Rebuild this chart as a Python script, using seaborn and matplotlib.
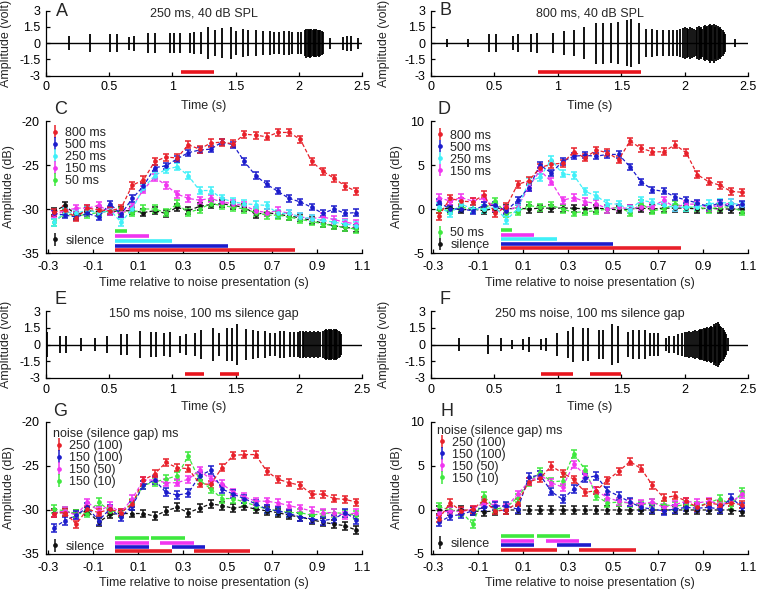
import numpy as np
import pandas as pd
import matplotlib
matplotlib.use("Agg")
import matplotlib.pyplot as plt
import seaborn as sns

sns.set_style("ticks")
plt.rcParams['font.family'] = ['Liberation Sans', 'DejaVu Sans']
plt.rcParams['font.size'] = 9
plt.rcParams['axes.unicode_minus'] = False
plt.rcParams['lines.dashed_pattern'] = [3.0, 1.8]

# ---------------- waveform data (spike times in s, half amplitudes in volt) -------------
A_TIMES = [0.00, 0.18, 0.35, 0.51, 0.56, 0.66, 0.70, 0.81, 0.86, 0.98, 1.01, 1.06, 1.14, 1.17, 1.23,
           1.28, 1.34, 1.39, 1.46, 1.50, 1.56, 1.60, 1.66, 1.72, 1.77, 1.80, 1.84, 1.88, 1.92, 1.95,
           1.99, 2.02, 2.05, 2.06, 2.07, 2.08, 2.09, 2.10, 2.11, 2.12, 2.13, 2.14, 2.15, 2.16, 2.17,
           2.18, 2.19, 2.25, 2.35, 2.38, 2.41, 2.47]
A_AMPS = [0.45, 0.65, 0.8, 0.8, 0.8, 0.6, 0.7, 0.9, 0.9, 0.9, 0.95, 0.9, 0.95, 1.0, 1.0,
          1.45, 1.2, 1.4, 1.5, 1.1, 1.3, 1.2, 1.2, 1.1, 1.1, 1.0, 1.0, 1.1, 1.1, 1.0,
          1.05, 1.0, 1.2, 1.35, 1.3, 1.25, 1.35, 1.3, 1.2, 1.3, 1.25, 1.3, 1.2, 1.25, 1.2,
          1.1, 1.0, 0.5, 0.6, 0.7, 0.7, 0.5]
A_NOISE = [(1.07, 1.33)]

B_TIMES = [0.13, 0.29, 0.455, 0.515, 0.645, 0.69, 0.79, 0.835, 0.96, 1.045, 1.13, 1.21, 1.30, 1.355,
           1.42, 1.475, 1.545, 1.58, 1.64, 1.695, 1.745, 1.785, 1.83, 1.875, 1.91, 1.94, 1.965, 1.985,
           2.0, 2.015, 2.03, 2.045, 2.06, 2.075, 2.09, 2.10, 2.11, 2.12, 2.13, 2.14, 2.15, 2.16, 2.17,
           2.18, 2.19, 2.20, 2.21, 2.22, 2.23, 2.24, 2.25, 2.26, 2.27, 2.28, 2.29, 2.30, 2.31, 2.32, 2.40]
B_AMPS = [0.35, 0.4, 0.85, 0.85, 0.65, 0.8, 0.85, 0.9, 0.9, 1.1, 1.2, 1.45, 1.9, 1.9,
          1.85, 1.95, 2.1, 2.2, 1.9, 1.3, 1.3, 1.2, 1.2, 1.2, 1.2, 1.2, 1.3, 1.4,
          1.5, 1.4, 1.3, 1.5, 1.4, 1.3, 1.2, 1.5, 1.6, 1.4, 1.5, 1.3, 1.6, 1.7, 1.5,
          1.6, 1.7, 1.8, 1.6, 1.7, 1.8, 1.5, 1.7, 1.6, 1.4, 1.5, 1.3, 1.2, 1.0, 0.8, 0.4]
B_NOISE = [(0.84, 1.66)]

E_TIMES = [0.005, 0.11, 0.16, 0.28, 0.39, 0.48, 0.59, 0.64, 0.74, 0.83, 0.87, 0.93, 0.98, 1.06, 1.11,
           1.18, 1.23, 1.32, 1.37, 1.43, 1.47, 1.51, 1.58, 1.64, 1.68, 1.73, 1.77, 1.81, 1.85, 1.88,
           1.93, 1.96, 1.99, 2.01, 2.03, 2.045, 2.06, 2.075, 2.09, 2.105, 2.12, 2.135, 2.15, 2.165,
           2.195, 2.205, 2.215, 2.225, 2.235, 2.245, 2.255, 2.265, 2.275, 2.285, 2.295, 2.305,
           2.315, 2.325, 2.335]
E_AMPS = [1.1, 0.75, 0.8, 0.6, 0.6, 0.8, 0.9, 0.95, 1.2, 1.1, 1.1, 1.0, 1.1, 0.8, 0.9,
          1.0, 1.3, 1.5, 1.0, 1.5, 1.5, 1.8, 1.4, 1.3, 1.2, 1.2, 1.0, 1.0, 1.2, 1.2,
          1.1, 1.1, 1.1, 1.2, 1.2, 1.1, 1.2, 1.1, 1.2, 1.1, 1.2, 1.1, 1.2, 1.1,
          1.2, 1.3, 1.4, 1.3, 1.4, 1.3, 1.4, 1.3, 1.4, 1.3, 1.4, 1.3,
          1.2, 1.1, 0.9]
E_NOISE = [(1.10, 1.25), (1.38, 1.53)]

F_TIMES = [0.22, 0.45, 0.55, 0.635, 0.725, 0.77, 0.87, 0.91, 0.995, 1.08, 1.12, 1.195, 1.24, 1.325,
           1.36, 1.425, 1.475, 1.55, 1.595, 1.64, 1.69, 1.73, 1.76, 1.79, 1.85, 1.875, 1.915, 1.95,
           1.98, 2.00, 2.02, 2.035, 2.05, 2.065, 2.08, 2.095, 2.11, 2.12, 2.13, 2.14, 2.15, 2.16,
           2.17, 2.18, 2.19, 2.20, 2.21, 2.22, 2.23, 2.24, 2.25, 2.26, 2.27, 2.28, 2.29, 2.30,
           2.31, 2.32, 2.33, 2.34]
F_AMPS = [0.55, 0.85, 0.55, 0.4, 0.45, 0.65, 0.5, 0.6, 1.0, 1.2, 1.6, 1.5, 1.5, 1.3,
          1.3, 1.85, 1.7, 1.1, 1.3, 1.3, 1.3, 1.0, 1.0, 1.0, 0.6, 0.8, 0.8, 0.9,
          1.0, 1.1, 1.1, 1.2, 1.1, 1.2, 1.3, 1.2, 1.3, 1.4, 1.3, 1.4, 1.5, 1.4,
          1.5, 1.6, 1.5, 1.6, 1.7, 1.6, 1.8, 1.7, 1.9, 2.0, 1.8, 1.7, 1.6, 1.5,
          1.3, 1.1, 0.9, 0.6]
F_NOISE = [(0.87, 1.12), (1.25, 1.50)]

WAVE_TITLES = ["250 ms, 40 dB SPL", "800 ms, 40 dB SPL",
               "150 ms noise, 100 ms silence gap", "250 ms noise, 100 ms silence gap"]

# ---------------- averaged response data ----------------
T = [-0.275, -0.225, -0.175, -0.125, -0.075, -0.025, 0.025, 0.075, 0.125, 0.175, 0.225, 0.275, 0.325,
     0.375, 0.425, 0.475, 0.525, 0.575, 0.625, 0.675, 0.725, 0.775, 0.825, 0.875, 0.925, 0.975,
     1.025, 1.075]

C_800 = [-30.35, -30.1, -31.0, -29.9, -30.1, -30.2, -29.9, -27.3, -26.7, -24.6, -24.1, -24.2, -22.7, -23.2,
         -22.5, -22.4, -22.6, -21.5, -21.6, -21.8, -21.3, -21.3, -22.1, -24.6, -25.7, -26.5, -27.4, -28.0]
C_500 = [-30.5, -30.7, -30.9, -30.5, -30.9, -29.4, -30.6, -28.8, -27.4, -25.3, -25.1, -24.3, -23.6, -23.3,
         -23.2, -22.4, -22.7, -24.6, -26.2, -27.2, -28.0, -28.8, -29.2, -29.8, -30.5, -30.0, -30.5, -30.4]
C_250 = [-31.5, -30.3, -30.5, -30.1, -30.5, -30.1, -31.5, -30.0, -27.6, -26.2, -25.5, -25.2, -26.2, -27.9,
         -27.9, -28.8, -29.2, -29.4, -29.5, -29.6, -30.5, -30.5, -30.9, -31.1, -31.3, -31.5, -31.7, -31.9]
C_150 = [-30.6, -30.2, -29.9, -29.9, -29.6, -30.3, -30.5, -29.7, -27.8, -26.4, -27.3, -28.3, -28.8, -29.0,
         -28.8, -29.2, -29.4, -29.6, -30.2, -30.4, -30.2, -30.5, -30.9, -31.1, -30.9, -31.2, -31.5, -31.7]
C_50 = [-31.5, -30.5, -30.8, -30.6, -30.4, -30.2, -30.3, -30.4, -30.0, -30.0, -30.4, -29.4, -30.4, -30.0,
        -29.4, -29.6, -29.8, -30.0, -30.4, -30.7, -30.7, -30.9, -31.2, -31.4, -31.7, -31.9, -32.1, -32.3]
C_SIL = [-30.3, -29.6, -30.7, -30.2, -30.3, -30.3, -30.2, -30.2, -30.4, -30.2, -30.5, -29.8, -30.2, -29.7,
         -29.5, -29.4, -29.6, -29.8, -30.6, -30.4, -30.6, -30.8, -31.0, -31.3, -31.6, -31.9, -32.1, -32.2]

D_800 = [-0.8, 1.2, 0.9, 0.8, 1.6, -0.5, 0.25, 2.8, 3.2, 4.7, 5.1, 5.2, 6.5, 5.8,
         6.7, 6.4, 5.6, 7.7, 6.9, 6.5, 6.5, 7.3, 6.4, 3.9, 3.1, 2.7, 2.0, 1.9]
D_500 = [0.75, 0.0, 0.0, -0.2, 0.4, 0.4, -0.2, 1.0, 2.4, 5.0, 4.1, 5.4, 6.0, 6.1,
         6.0, 6.2, 6.2, 4.8, 3.1, 2.2, 2.0, 1.4, 1.0, 0.7, 0.25, 0.7, 0.2, 0.6]
D_250 = [0.25, -0.5, 0.55, 0.0, 0.0, 0.25, -1.25, 0.0, 3.1, 3.6, 5.6, 4.0, 3.85, 2.0,
         1.5, 0.6, 0.55, -0.1, 1.0, 0.75, 0.4, 0.2, 0.2, 0.25, 0.6, 0.7, 0.7, 0.4]
D_150 = [1.3, 0.9, 1.3, 0.9, 1.2, 0.2, -0.1, 0.2, 2.5, 4.4, 3.1, 1.0, 1.3, 0.85,
         0.6, 0.0, 0.2, 0.0, 0.25, 0.25, 1.0, 0.2, 0.55, 0.55, 0.2, 0.4, 0.7, 0.4]
D_50 = [0.0, -0.2, 0.2, 0.0, 0.0, 0.9, -0.5, -0.3, 0.4, 0.2, 0.4, 0.0, -0.4, -0.3,
        -0.2, 0.0, 0.2, -0.4, 0.6, -0.2, 0.0, 0.55, 0.2, 0.2, 0.0, 0.2, 0.25, -0.3]
D_SIL = [0.0, 0.1, -0.1, 0.0, -0.2, 0.1, 0.0, 0.1, 0.0, 0.1, 0.1, 0.1, 0.1, 0.0,
         0.1, 0.0, -0.1, 0.0, 0.1, 0.0, 0.1, 0.1, 0.1, 0.0, 0.1, 0.0, 0.0, 0.0]

G_250_100 = [-30.4, -30.3, -31.6, -29.9, -30.3, -29.9, -30.3, -29.3, -26.6, -25.9, -24.6, -25.2, -25.3, -27.0,
             -27.1, -25.2, -23.8, -23.7, -23.7, -25.6, -26.5, -26.9, -27.2, -28.2, -28.2, -28.7, -28.8, -29.1]
G_150_100 = [-32.0, -31.2, -30.6, -29.7, -31.2, -29.9, -30.8, -29.5, -27.2, -26.6, -28.0, -28.3, -28.1, -26.1,
             -25.5, -27.6, -28.2, -28.7, -29.3, -29.9, -30.1, -30.4, -30.8, -31.0, -31.2, -31.0, -30.3, -31.1]
G_150_50 = [-30.4, -30.1, -30.6, -29.1, -30.1, -29.5, -30.3, -28.7, -26.6, -26.6, -26.9, -26.9, -26.5, -25.5,
            -26.5, -27.0, -28.0, -28.5, -29.0, -29.0, -29.2, -29.5, -29.8, -30.1, -30.3, -30.3, -30.6, -30.3]
G_150_10 = [-29.9, -30.1, -30.4, -30.4, -29.1, -30.1, -30.3, -29.2, -27.2, -26.8, -26.5, -26.1, -23.9, -26.6,
            -27.6, -28.7, -28.7, -29.1, -29.5, -29.9, -30.1, -30.3, -30.3, -30.6, -30.4, -30.3, -30.4, -30.6]
G_SIL = [-30.3, -30.2, -30.4, -30.1, -31.4, -30.5, -30.4, -30.4, -30.4, -30.7, -30.1, -29.7, -30.3, -29.8,
         -29.3, -29.5, -29.8, -29.6, -29.9, -30.1, -30.3, -30.6, -30.8, -31.1, -31.4, -31.6, -31.8, -32.3]

H_250_100 = [-1.0, 0.8, -0.1, 0.1, 1.1, -0.1, 0.0, 0.8, 3.2, 3.6, 5.0, 4.2, 3.5, 2.0,
             2.2, 3.4, 4.4, 5.5, 4.7, 2.8, 1.4, 1.6, 1.0, 0.3, 0.8, 0.6, 0.8, 0.6]
H_150_100 = [-1.4, -0.7, -0.5, -0.1, 0.3, 0.45, 0.45, 0.1, 3.7, 4.0, 2.1, 1.2, 2.4, 3.6,
             3.9, 2.2, 1.6, 0.9, 0.3, 0.1, -0.1, 0.1, 0.3, 0.2, 0.3, 0.1, 1.4, 0.3]
H_150_50 = [-0.3, -0.1, -0.2, 0.1, 0.8, 0.6, 0.3, 1.8, 3.2, 4.0, 3.1, 2.6, 5.2, 4.0,
            2.2, 1.4, 1.0, 0.8, 0.7, 0.9, 0.3, 0.6, 1.0, 0.8, 1.0, 0.7, 0.9, 1.8]
H_150_10 = [0.4, 0.0, -0.2, -1.6, 1.6, 0.1, 0.3, 1.4, 3.2, 4.3, 3.2, 3.3, 6.4, 4.6,
            1.6, 0.8, 0.9, 0.8, 0.6, 0.8, 0.6, 0.45, 0.6, 0.45, 0.8, 1.3, 0.6, 2.0]
H_SIL = [0.0, -0.1, 0.0, -0.1, -0.2, -0.1, 0.0, 0.0, 0.0, 0.0, 0.0, 0.0, 0.0, 0.0,
         0.0, 0.0, 0.0, 0.0, 0.0, 0.0, 0.0, 0.0, 0.0, 0.0, 0.0, 0.0, 0.0, -0.2]

# typical standard errors (dB) per series
ERR_DUR = {"800 ms": 0.4, "500 ms": 0.35, "250 ms": 0.4, "150 ms": 0.4, "50 ms": 0.4, "silence": 0.4}
ERR_GAP = {"250 (100)": 0.4, "150 (100)": 0.45, "150 (50)": 0.4, "150 (10)": 0.45, "silence": 0.45}

DUR_LABELS = ["800 ms", "500 ms", "250 ms", "150 ms", "50 ms"]
DUR_NOISE = {"800 ms": [(0.0, 0.8)], "500 ms": [(0.0, 0.5)], "250 ms": [(0.0, 0.25)],
             "150 ms": [(0.0, 0.15)], "50 ms": [(0.0, 0.05)]}
GAP_LABELS = ["250 (100)", "150 (100)", "150 (50)", "150 (10)"]
GAP_NOISE = {"250 (100)": [(0.0, 0.25), (0.35, 0.60)], "150 (100)": [(0.0, 0.15), (0.25, 0.40)],
             "150 (50)": [(0.0, 0.15), (0.20, 0.35)], "150 (10)": [(0.0, 0.15), (0.16, 0.31)]}

COLORS = {"800 ms": "#e8202a", "500 ms": "#1c1ccc", "250 ms": "#3ff0f8", "150 ms": "#f035f0",
          "50 ms": "#3ee83e", "silence": "#111111",
          "250 (100)": "#e8202a", "150 (100)": "#1c1ccc", "150 (50)": "#f035f0", "150 (10)": "#3ee83e"}
NOISE_RED = "#e8141c"

# ---------------- figure ----------------
W, H = 757, 592
fig = plt.figure(figsize=(W / 100, H / 100), dpi=100)


def add_ax(l, t, r, b):
    return fig.add_axes([l / W, 1 - b / H, (r - l) / W, (b - t) / H])


def style(ax, xpad, ypad):
    sns.despine(ax=ax)
    for s in ("left", "bottom"):
        ax.spines[s].set_linewidth(0.9)
        ax.spines[s].set_color("black")
    ax.tick_params(direction="in", length=3, width=0.9, labelsize=9, colors="black")
    ax.tick_params(axis="x", pad=xpad)
    ax.tick_params(axis="y", pad=ypad)


def wave_panel(ax, times, amps, noise, title, ylab_x, xlab_y):
    df = pd.DataFrame({"t": times, "a": amps})
    ax.plot([0, 2.5], [0, 0], color="black", lw=1.0)
    ax.vlines(df["t"], -df["a"], df["a"], color="black", lw=1.3)
    for x0, x1 in noise:
        ax.hlines(-2.65, x0, x1, color=NOISE_RED, lw=2.6)
    ax.set_xlim(0, 2.5)
    ax.set_ylim(-3, 3)
    ax.set_xticks([0, 0.5, 1, 1.5, 2, 2.5])
    ax.set_xticklabels(["0", "0.5", "1", "1.5", "2", "2.5"])
    ax.set_yticks([-3, -1.5, 0, 1.5, 3])
    ax.set_yticklabels(["-3", "-1.5", "0", "1.5", "3"])
    ax.set_ylabel("Amplitude (volt)", fontsize=9)
    ax.set_xlabel("Time (s)", fontsize=9)
    ax.yaxis.set_label_coords(ylab_x, 0.5)
    ax.xaxis.set_label_coords(0.5, xlab_y)
    ax.text(0.5, 0.95, title, transform=ax.transAxes, ha="center", va="center", fontsize=9)
    style(ax, 4, 4)


def resp_panel(ax, series, draw_order, errs, noise, bar_levels, ylim, yticks, ylab_x, xlab_y):
    rows = []
    for name in draw_order:
        for t, v in zip(T, series[name]):
            rows.append({"t": t, "v": v, "cond": name})
    df = pd.DataFrame(rows)
    for name in draw_order:
        sub = df[df["cond"] == name]
        ax.errorbar(sub["t"], sub["v"], yerr=errs[name], fmt="none", ecolor=COLORS[name],
                    elinewidth=1.1, capsize=2.3, capthick=1.1, zorder=2)
    sns.lineplot(data=df, x="t", y="v", hue="cond", hue_order=draw_order, palette=COLORS,
                 estimator=None, sort=False, linestyle="--", lw=0.9, marker="o", markersize=3.4,
                 markeredgewidth=0, legend=False, ax=ax, zorder=3)
    for name, yb in bar_levels.items():
        for x0, x1 in noise[name]:
            ax.hlines(yb, x0, x1, color=COLORS[name], lw=2.6, zorder=4)
    ax.set_xlim(-0.31, 1.1)
    ax.set_ylim(*ylim)
    xt = [-0.3, -0.1, 0.1, 0.3, 0.5, 0.7, 0.9, 1.1]
    ax.set_xticks(xt)
    ax.set_xticklabels([f"{v:.1f}" for v in xt])
    ax.set_yticks(yticks)
    ax.set_yticklabels([str(v) for v in yticks])
    ax.set_xlabel("Time relative to noise presentation (s)", fontsize=9)
    ax.set_ylabel("Amplitude (dB)", fontsize=9)
    ax.yaxis.set_label_coords(ylab_x, 0.5)
    ax.xaxis.set_label_coords(0.5, xlab_y)
    style(ax, 5.5, 5)


def handles(ax, names, errs):
    hs = []
    for n in names:
        h = ax.errorbar([np.nan], [np.nan], yerr=[errs[n]], fmt="o", ms=3.4, mew=0, color=COLORS[n],
                        ecolor=COLORS[n], elinewidth=1.1, capsize=2.3, capthick=1.1)
        hs.append(h)
    return hs


LEG_KW = dict(frameon=False, fontsize=9, handlelength=0.9, handletextpad=0.35, labelspacing=0.0,
              borderpad=0.0, borderaxespad=0.0)

# --- waveform panels
axA = add_ax(46, 10.7, 362, 75.5)
wave_panel(axA, A_TIMES, A_AMPS, A_NOISE, WAVE_TITLES[0], -0.108, -0.38)
axB = add_ax(431, 10.7, 748, 75.5)
wave_panel(axB, B_TIMES, B_AMPS, B_NOISE, WAVE_TITLES[1], -0.13, -0.38)
axE = add_ax(46, 311, 362, 378)
wave_panel(axE, E_TIMES, E_AMPS, E_NOISE, WAVE_TITLES[2], -0.108, -0.34)
axF = add_ax(431, 311, 748, 378)
wave_panel(axF, F_TIMES, F_AMPS, F_NOISE, WAVE_TITLES[3], -0.13, -0.34)

# --- panel C
axC = add_ax(46, 121, 362, 253)
seriesC = {"800 ms": C_800, "500 ms": C_500, "250 ms": C_250, "150 ms": C_150, "50 ms": C_50, "silence": C_SIL}
barsC = {"50 ms": -32.55, "150 ms": -33.1, "250 ms": -33.6, "500 ms": -34.15, "800 ms": -34.65}
resp_panel(axC, seriesC, ["silence", "50 ms", "150 ms", "250 ms", "500 ms", "800 ms"], ERR_DUR,
           DUR_NOISE, barsC, (-35, -20), [-35, -30, -25, -20], -0.097, -0.18)
h = handles(axC, DUR_LABELS + ["silence"], ERR_DUR)
l1 = axC.legend(h[:5], DUR_LABELS, loc="upper left", bbox_to_anchor=(0.012, 0.955), **LEG_KW)
axC.add_artist(l1)
axC.legend(h[5:], ["silence"], loc="center left", bbox_to_anchor=(0.012, 0.093), **LEG_KW)

# --- panel D
axD = add_ax(431, 121, 748, 253)
seriesD = {"800 ms": D_800, "500 ms": D_500, "250 ms": D_250, "150 ms": D_150, "50 ms": D_50, "silence": D_SIL}
barsD = {"50 ms": -2.4, "150 ms": -2.9, "250 ms": -3.4, "500 ms": -3.95, "800 ms": -4.45}
resp_panel(axD, seriesD, ["silence", "50 ms", "150 ms", "250 ms", "500 ms", "800 ms"], ERR_DUR,
           DUR_NOISE, barsD, (-5, 10), [-5, 0, 5, 10], -0.087, -0.18)
h = handles(axD, DUR_LABELS + ["silence"], ERR_DUR)
l1 = axD.legend(h[:4], DUR_LABELS[:4], loc="upper left", bbox_to_anchor=(0.012, 0.935), **LEG_KW)
axD.add_artist(l1)
axD.legend(h[4:], ["50 ms", "silence"], loc="center left", bbox_to_anchor=(0.012, 0.105), **LEG_KW)

# --- panel G
axG = add_ax(46, 422, 362, 554)
seriesG = {"250 (100)": G_250_100, "150 (100)": G_150_100, "150 (50)": G_150_50, "150 (10)": G_150_10,
           "silence": G_SIL}
barsG = {"150 (10)": -33.2, "150 (50)": -33.7, "150 (100)": -34.2, "250 (100)": -34.7}
resp_panel(axG, seriesG, ["silence", "150 (10)", "150 (50)", "150 (100)", "250 (100)"], ERR_GAP,
           GAP_NOISE, barsG, (-35, -20), [-35, -30, -25, -20], -0.097, -0.175)
h = handles(axG, GAP_LABELS + ["silence"], ERR_GAP)
l1 = axG.legend(h[:4], GAP_LABELS, loc="upper left", bbox_to_anchor=(0.022, 0.955),
                title="noise (silence gap) ms", title_fontsize=9, alignment="left", **LEG_KW)
axG.add_artist(l1)
axG.legend(h[4:], ["silence"], loc="center left", bbox_to_anchor=(0.012, 0.055), **LEG_KW)

# --- panel H
axHh = add_ax(431, 422, 748, 554)
seriesH = {"250 (100)": H_250_100, "150 (100)": H_150_100, "150 (50)": H_150_50, "150 (10)": H_150_10,
           "silence": H_SIL}
barsH = {"150 (10)": -3.0, "150 (50)": -3.5, "150 (100)": -4.0, "250 (100)": -4.5}
resp_panel(axHh, seriesH, ["silence", "150 (10)", "150 (50)", "150 (100)", "250 (100)"], ERR_GAP,
           GAP_NOISE, barsH, (-5, 10), [-5, 0, 5, 10], -0.087, -0.175)
h = handles(axHh, GAP_LABELS + ["silence"], ERR_GAP)
l1 = axHh.legend(h[:4], GAP_LABELS, loc="upper left", bbox_to_anchor=(0.018, 0.98),
                 title="noise (silence gap) ms", title_fontsize=9, alignment="left", **LEG_KW)
axHh.add_artist(l1)
axHh.legend(h[4:], ["silence"], loc="center left", bbox_to_anchor=(0.012, 0.075), **LEG_KW)

# --- panel letters
for letter, (px, py) in {"A": (61.5, 11.5), "B": (445.5, 10.5), "C": (61, 110), "D": (444, 110),
                         "E": (61, 299), "F": (445, 299), "G": (60, 411.5), "H": (447, 411.5)}.items():
    fig.text(px / W, 1 - py / H, letter, fontsize=13, ha="center", va="center")

fig.savefig("out.png", dpi=100)
